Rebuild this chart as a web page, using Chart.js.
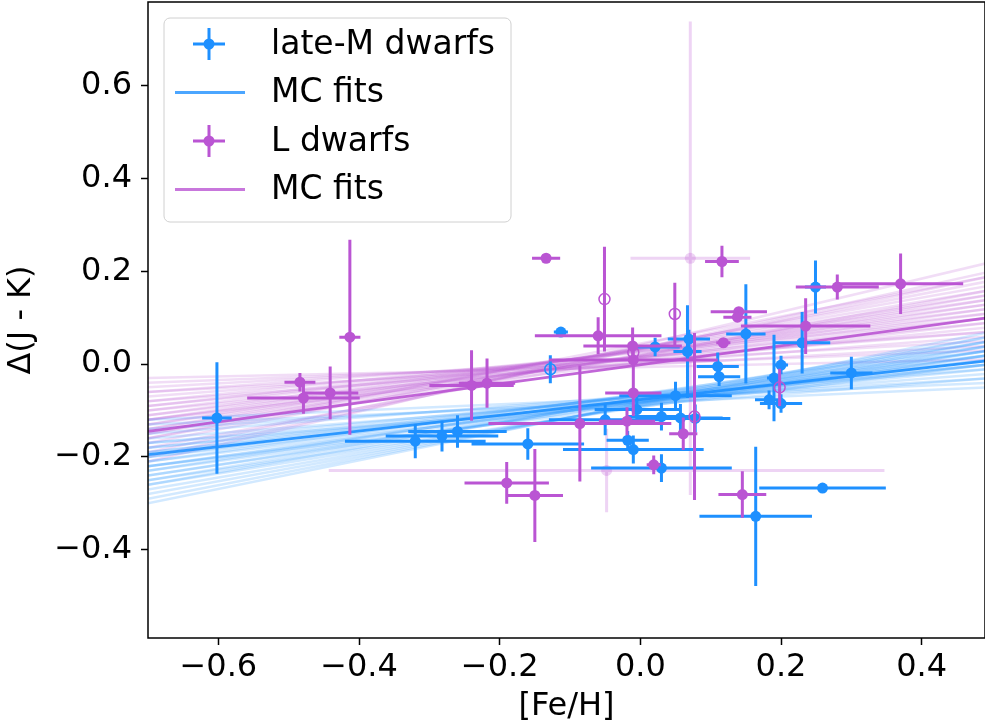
<!DOCTYPE html>
<html>
<head>
<meta charset="utf-8">
<script src="https://cdn.jsdelivr.net/npm/chart.js@4.4.1/dist/chart.umd.min.js"></script>
<style>
  html, body { margin: 0; padding: 0; background: #fff; overflow: hidden; }
  #wrap { width: 985px; height: 723px; position: relative; }
  #wrap canvas { display: block; }
</style>
</head>
<body>
<div id="wrap"><canvas id="chart"></canvas></div>
<script>
var xTicks = [-0.6, -0.4, -0.2, 0.0, 0.2, 0.4];
var yTicks = [-0.4, -0.2, 0.0, 0.2, 0.4, 0.6];

// late-M dwarfs
var mFeH    = [-0.602, -0.320, -0.282, -0.260, -0.160, -0.113, -0.128, -0.050, -0.005, 0.030, 0.057, 0.050, 0.021, 0.069, 0.067, -0.018, -0.010, 0.030, 0.110, 0.112, 0.150, 0.249, 0.230, 0.300, 0.190, 0.200, 0.183, 0.200, 0.259, 0.164, 0.078];
var mDjk    = [-0.116, -0.166, -0.155, -0.145, -0.172, 0.069, -0.011, -0.120, -0.098, -0.113, -0.116, -0.068, 0.037, 0.054, 0.027, -0.164, -0.184, -0.224, -0.005, -0.027, 0.065, 0.166, 0.046, -0.019, -0.030, -0.002, -0.077, -0.085, -0.267, -0.328, -0.117];
var mFeHErr = [0.021, 0.100, 0.080, 0.070, 0.080, 0.010, 0.000, 0.080, 0.060, 0.050, 0.060, 0.080, 0.035, 0.030, 0.020, 0.030, 0.100, 0.100, 0.030, 0.030, 0.028, 0.015, 0.040, 0.030, 0.010, 0.010, 0.020, 0.030, 0.090, 0.080, 0.050];
var mDjkErr = [0.120, 0.037, 0.033, 0.035, 0.034, 0.010, 0.030, 0.033, 0.030, 0.030, 0.030, 0.030, 0.020, 0.020, 0.100, 0.020, 0.030, 0.030, 0.030, 0.020, 0.107, 0.057, 0.066, 0.035, 0.093, 0.020, 0.020, 0.020, 0.005, 0.150, 0.030];
var mOpen   = [0, 0, 0, 0, 0, 0, 1, 0, 0, 0, 0, 0, 0, 0, 0, 0, 0, 0, 0, 0, 0, 0, 0, 0, 0, 0, 0, 0, 0, 0, 0];

// L dwarfs
var lFeH    = [-0.484, -0.479, -0.441, -0.413, -0.240, -0.218, -0.134, -0.051, -0.060, -0.011, -0.010, -0.010, -0.010, -0.086, -0.019, 0.061, 0.019, -0.190, -0.150, 0.145, 0.116, 0.140, 0.138, 0.118, 0.280, 0.370, 0.235, 0.049, 0.077, 0.198, 0.071, -0.048];
var lDjk    = [-0.039, -0.073, -0.062, 0.058, -0.046, -0.041, 0.228, 0.140, 0.061, 0.039, 0.025, 0.009, -0.062, -0.128, -0.123, -0.150, -0.217, -0.256, -0.283, -0.281, 0.221, 0.113, 0.101, 0.046, 0.166, 0.173, 0.082, 0.108, -0.113, -0.050, 0.228, -0.229];
var lFeHErr = [0.022, 0.080, 0.040, 0.015, 0.060, 0.040, 0.020, 0.000, 0.090, 0.070, 0.000, 0.120, 0.040, 0.130, 0.040, 0.020, 0.010, 0.060, 0.040, 0.034, 0.024, 0.040, 0.020, 0.010, 0.059, 0.089, 0.092, 0.000, 0.000, 0.000, 0.085, 0.395];
var lDjkErr = [0.020, 0.034, 0.057, 0.210, 0.076, 0.053, 0.005, 0.113, 0.040, 0.040, 0.020, 0.030, 0.050, 0.125, 0.030, 0.035, 0.020, 0.045, 0.100, 0.050, 0.034, 0.010, 0.010, 0.010, 0.027, 0.065, 0.060, 0.067, 0.180, 0.040, 0.510, 0.090];
var lOpen   = [0, 0, 0, 0, 0, 0, 0, 1, 0, 0, 1, 0, 0, 0, 0, 0, 0, 0, 0, 0, 0, 0, 0, 0, 0, 0, 0, 1, 1, 1, 0, 0];
var lFaded  = [0, 0, 0, 0, 0, 0, 0, 0, 0, 0, 0, 0, 0, 0, 0, 0, 0, 0, 0, 0, 0, 0, 0, 0, 0, 0, 0, 0, 0, 0, 1, 1];

// MC fit lines: Δ(J - K) at [Fe/H] = -0.7 and 0.5
var fitX = [-0.7, 0.5];
var mFitLeft  = [-0.12, -0.14, -0.15, -0.16, -0.17, -0.18, -0.18, -0.19, -0.20, -0.20, -0.21, -0.21, -0.22, -0.22, -0.23, -0.23, -0.24, -0.24, -0.25, -0.25, -0.26, -0.26, -0.27, -0.28, -0.29, -0.30, -0.13, -0.17, -0.19, -0.22];
var mFitRight = [-0.04, -0.03, -0.01, -0.02, 0.00, -0.01, 0.01, 0.02, 0.00, 0.03, 0.01, 0.04, 0.02, 0.03, 0.02, 0.05, 0.03, 0.04, 0.02, 0.05, 0.03, 0.06, 0.04, 0.05, 0.06, 0.07, -0.05, -0.03, 0.00, 0.00];
var lFitLeft  = [-0.04, -0.05, -0.06, -0.07, -0.08, -0.09, -0.09, -0.10, -0.10, -0.11, -0.11, -0.12, -0.12, -0.13, -0.13, -0.14, -0.14, -0.15, -0.15, -0.16, -0.17, -0.18, -0.19, -0.20, -0.21, -0.03, -0.06, -0.08, -0.12, -0.16];
var lFitRight = [0.03, 0.05, 0.04, 0.07, 0.06, 0.09, 0.11, 0.08, 0.12, 0.10, 0.13, 0.11, 0.14, 0.12, 0.15, 0.13, 0.16, 0.14, 0.17, 0.15, 0.18, 0.16, 0.19, 0.20, 0.22, 0.01, 0.07, 0.10, 0.09, 0.19];
var mBest = [-0.195, 0.008];
var lBest = [-0.145, 0.101];

var legendLabels = ['late-M dwarfs', 'MC fits', 'L dwarfs', 'MC fits'];

var blue = 'rgb(30, 144, 255)';
var orchid = 'rgb(186, 85, 211)';
var fnt = 'DejaVu Sans';

function rgba(c, a) { return c.replace('rgb(', 'rgba(').replace(')', ', ' + a + ')'); }

function errorSegments(xs, ys, xe, ye, keep) {
    var pts = [];
    for (var i = 0; i < xs.length; i++) {
        if (!keep(i)) continue;
        if (xe[i] > 0) {
            pts.push({x: xs[i] - xe[i], y: ys[i]}, {x: xs[i] + xe[i], y: ys[i]}, {x: NaN, y: NaN});
        }
        pts.push({x: xs[i], y: ys[i] - ye[i]}, {x: xs[i], y: ys[i] + ye[i]}, {x: NaN, y: NaN});
    }
    return pts;
}
function points(xs, ys, keep) {
    var pts = [];
    for (var i = 0; i < xs.length; i++) {
        if (keep(i)) pts.push({x: xs[i], y: ys[i]});
    }
    return pts;
}
function fitLine(yl, yr, color, width, order) {
    return {
        type: 'line', data: [{x: fitX[0], y: yl}, {x: fitX[1], y: yr}],
        borderColor: color, borderWidth: width, pointRadius: 0, fill: false, order: order
    };
}

var datasets = [];
for (var i = 0; i < lFitLeft.length; i++) datasets.push(fitLine(lFitLeft[i], lFitRight[i], rgba(orchid, 0.2), 2.5, 50));
for (var j = 0; j < mFitLeft.length; j++) datasets.push(fitLine(mFitLeft[j], mFitRight[j], rgba(blue, 0.2), 2.5, 49));
datasets.push(fitLine(lBest[0], lBest[1], rgba(orchid, 0.9), 2.8, 40));
datasets.push(fitLine(mBest[0], mBest[1], rgba(blue, 0.9), 2.8, 39));

// faded L dwarfs
datasets.push({
    type: 'line', data: errorSegments(lFeH, lDjk, lFeHErr, lDjkErr, function (k) { return lFaded[k]; }),
    borderColor: rgba(orchid, 0.25), borderWidth: 3, pointRadius: 0, spanGaps: false, order: 30
});
datasets.push({
    type: 'scatter', data: points(lFeH, lDjk, function (k) { return lFaded[k]; }),
    pointRadius: 5.5, pointBackgroundColor: rgba(orchid, 0.25), pointBorderWidth: 0, order: 29
});
// late-M dwarfs
datasets.push({
    type: 'line', data: errorSegments(mFeH, mDjk, mFeHErr, mDjkErr, function () { return true; }),
    borderColor: blue, borderWidth: 3, pointRadius: 0, spanGaps: false, order: 20
});
datasets.push({
    type: 'scatter', data: points(mFeH, mDjk, function (k) { return !mOpen[k]; }),
    pointRadius: 5.5, pointBackgroundColor: blue, pointBorderWidth: 0, order: 19
});
datasets.push({
    type: 'scatter', data: points(mFeH, mDjk, function (k) { return mOpen[k]; }),
    pointRadius: 5.5, pointBackgroundColor: 'rgba(0,0,0,0)', pointBorderColor: blue, pointBorderWidth: 1.5, order: 19
});
// L dwarfs
datasets.push({
    type: 'line', data: errorSegments(lFeH, lDjk, lFeHErr, lDjkErr, function (k) { return !lFaded[k]; }),
    borderColor: orchid, borderWidth: 3, pointRadius: 0, spanGaps: false, order: 10
});
datasets.push({
    type: 'scatter', data: points(lFeH, lDjk, function (k) { return !lFaded[k] && !lOpen[k]; }),
    pointRadius: 5.5, pointBackgroundColor: orchid, pointBorderWidth: 0, order: 9
});
datasets.push({
    type: 'scatter', data: points(lFeH, lDjk, function (k) { return lOpen[k]; }),
    pointRadius: 5.5, pointBackgroundColor: 'rgba(0,0,0,0)', pointBorderColor: orchid, pointBorderWidth: 1.5, order: 9
});

function fmt(v) {
    return (v < -1e-9 ? '\u2212' : '') + Math.abs(v).toFixed(1);
}

var framePlugin = {
    id: 'frame',
    afterDraw: function (chart) {
        var ctx = chart.ctx, a = chart.chartArea;
        ctx.save();
        ctx.strokeStyle = '#000';
        ctx.lineWidth = 1.5;
        ctx.strokeRect(a.left, a.top, a.right - a.left, a.bottom - a.top);

        // legend box
        var bx = a.left + 16, by = a.top + 16, bw = 347, bh = 204;
        ctx.beginPath();
        ctx.roundRect(bx, by, bw, bh, 6);
        ctx.fillStyle = 'rgba(255,255,255,0.8)';
        ctx.fill();
        ctx.strokeStyle = '#d0d0d0';
        ctx.lineWidth = 1;
        ctx.stroke();

        var cols = [blue, rgba(blue, 0.8), orchid, rgba(orchid, 0.8)];
        ctx.font = '33px "' + fnt + '"';
        ctx.textBaseline = 'middle';
        ctx.textAlign = 'left';
        for (var r = 0; r < legendLabels.length; r++) {
            var cy = by + 26 + r * 48.5, cx = bx + 45;
            ctx.strokeStyle = cols[r];
            ctx.lineWidth = r % 2 ? 2.8 : 3;
            ctx.beginPath();
            if (r % 2 === 0) {
                ctx.moveTo(cx - 16, cy); ctx.lineTo(cx + 16, cy);
                ctx.moveTo(cx, cy - 16); ctx.lineTo(cx, cy + 16);
                ctx.stroke();
                ctx.beginPath();
                ctx.arc(cx, cy, 5.5, 0, Math.PI * 2);
                ctx.fillStyle = cols[r];
                ctx.fill();
            } else {
                ctx.moveTo(cx - 34, cy); ctx.lineTo(cx + 36, cy);
                ctx.stroke();
            }
            ctx.fillStyle = '#000';
            ctx.fillText(legendLabels[r], bx + 107, cy + 1);
        }
        ctx.restore();
    }
};

new Chart(document.getElementById('chart'), {
    type: 'scatter',
    data: { datasets: datasets },
    options: {
        responsive: true,
        maintainAspectRatio: false,
        animation: false,
        events: [],
        layout: { autoPadding: false, padding: { top: 2, right: 0, left: 0, bottom: 0 } },
        plugins: { legend: { display: false }, tooltip: { enabled: false } },
        scales: {
            x: {
                type: 'linear', min: -0.7, max: 0.49,
                afterBuildTicks: function (s) { s.ticks = xTicks.map(function (v) { return {value: v}; }); },
                afterFit: function (s) { s.height = 85; s.paddingLeft = 0; s.paddingRight = 0; },
                grid: { display: true, drawOnChartArea: false, drawTicks: true, tickLength: 7, tickWidth: 1.5, tickColor: '#000' },
                border: { display: false },
                ticks: { font: { family: fnt, size: 32 }, color: '#000', padding: 3, maxRotation: 0, autoSkip: false,
                         callback: function (v) { return fmt(v); } },
                title: { display: true, text: '[Fe/H]', color: '#000', font: { family: fnt, size: 32, lineHeight: 1 },
                         padding: { top: 0, bottom: 0 } }
            },
            y: {
                type: 'linear', min: -0.59, max: 0.78,
                afterBuildTicks: function (s) { s.ticks = yTicks.map(function (v) { return {value: v}; }); },
                afterFit: function (s) { s.width = 148; s.paddingTop = 0; s.paddingBottom = 0; },
                grid: { display: true, drawOnChartArea: false, drawTicks: true, tickLength: 7, tickWidth: 1.5, tickColor: '#000' },
                border: { display: false },
                ticks: { font: { family: fnt, size: 32 }, color: '#000', padding: 9, autoSkip: false,
                         callback: function (v) { return fmt(v); } },
                title: { display: true, text: '\u0394(J - K)', color: '#000', font: { family: fnt, size: 32, lineHeight: 1 },
                         padding: { top: 6, bottom: 0 } }
            }
        }
    },
    plugins: [framePlugin]
});
</script>
</body>
</html>
